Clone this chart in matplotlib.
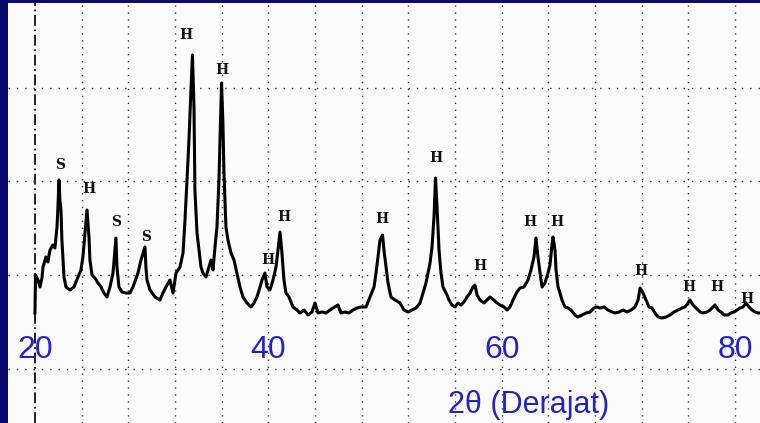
import matplotlib
matplotlib.use("Agg")
import matplotlib.pyplot as plt

# XRD pattern (2-theta in degrees, intensity in arbitrary units)
two_theta = [20.00, 20.05, 20.26, 20.43, 20.60, 20.69, 20.94, 21.11, 21.29, 21.54,
             21.71, 21.89, 21.97, 22.06, 22.14, 22.23, 22.31, 22.49, 22.66, 23.00,
             23.34, 23.69, 23.94, 24.11, 24.29, 24.46, 24.63, 24.71, 24.89, 25.14,
             25.40, 25.66, 25.91, 26.17, 26.43, 26.69, 26.94, 27.03, 27.20, 27.46,
             27.80, 28.14, 28.40, 28.83, 29.09, 29.43, 29.51, 29.60, 29.86, 30.29,
             30.71, 30.97, 31.23, 31.57, 31.83, 32.09, 32.43, 32.69, 32.86, 33.03,
             33.20, 33.37, 33.50, 33.63, 33.71, 33.89, 34.06, 34.23, 34.40, 34.66,
             34.91, 35.09, 35.26, 35.43, 35.60, 35.77, 35.86, 35.99, 36.11, 36.20,
             36.37, 36.54, 36.80, 37.06, 37.31, 37.57, 37.83, 38.17, 38.51, 38.77,
             39.03, 39.29, 39.46, 39.71, 39.89, 40.14, 40.40, 40.66, 40.83, 41.00,
             41.17, 41.34, 41.51, 41.77, 42.11, 42.46, 42.71, 43.06, 43.40, 43.74,
             44.00, 44.26, 44.60, 44.94, 45.29, 45.54, 45.97, 46.23, 46.57, 46.91,
             47.26, 47.60, 47.94, 48.37, 48.71, 49.06, 49.23, 49.40, 49.57, 49.79,
             49.91, 50.09, 50.26, 50.51, 50.86, 51.29, 51.63, 51.97, 52.31, 52.66,
             53.00, 53.26, 53.51, 53.69, 53.86, 54.03, 54.20, 54.33, 54.46, 54.63,
             54.80, 54.97, 55.23, 55.49, 55.74, 56.00, 56.26, 56.51, 56.77, 57.03,
             57.29, 57.54, 57.71, 57.89, 58.14, 58.49, 58.74, 59.00, 59.34, 59.60,
             59.86, 60.20, 60.46, 60.71, 60.97, 61.31, 61.57, 61.91, 62.26, 62.51,
             62.77, 62.94, 63.11, 63.29, 63.46, 63.71, 63.97, 64.14, 64.31, 64.40,
             64.57, 64.66, 64.83, 65.00, 65.17, 65.43, 65.69, 65.94, 66.29, 66.54,
             66.89, 67.23, 67.57, 67.91, 68.17, 68.43, 68.77, 69.11, 69.46, 69.71,
             70.06, 70.40, 70.74, 71.09, 71.43, 71.69, 71.86, 72.11, 72.37, 72.63,
             72.89, 73.14, 73.40, 73.74, 74.09, 74.43, 74.77, 75.11, 75.46, 75.71,
             75.97, 76.14, 76.40, 76.66, 77.00, 77.26, 77.60, 77.86, 78.11, 78.29,
             78.54, 78.80, 79.06, 79.40, 79.66, 79.91, 80.17, 80.43, 80.69, 80.94,
             81.20, 81.46, 81.71, 81.97, 82.14]
intensity = [110, 148, 143, 136, 145, 156, 166, 161, 173, 178,
             175, 196, 216, 243, 223, 213, 183, 146, 136, 133,
             136, 146, 153, 166, 190, 213, 186, 163, 148, 145,
             140, 136, 130, 126, 136, 150, 185, 156, 136, 131,
             130, 130, 136, 150, 163, 176, 156, 143, 133, 126,
             123, 130, 136, 143, 130, 150, 156, 170, 203, 243,
             283, 333, 368, 316, 233, 190, 173, 156, 150, 146,
             156, 163, 153, 176, 196, 243, 283, 340, 300, 250,
             196, 183, 170, 163, 150, 136, 126, 120, 116, 120,
             126, 136, 143, 150, 136, 133, 143, 156, 173, 191,
             170, 143, 130, 126, 116, 113, 110, 113, 108, 111,
             120, 110, 111, 110, 113, 115, 118, 110, 111, 110,
             113, 115, 116, 116, 126, 136, 150, 166, 183, 188,
             173, 156, 140, 126, 123, 120, 113, 111, 113, 115,
             120, 130, 140, 150, 160, 176, 206, 245, 216, 173,
             150, 136, 130, 123, 118, 116, 120, 118, 121, 126,
             130, 136, 138, 128, 123, 120, 123, 126, 123, 120,
             118, 116, 113, 116, 123, 131, 135, 136, 143, 153,
             166, 185, 166, 150, 136, 140, 150, 158, 178, 186,
             173, 153, 136, 130, 123, 116, 115, 113, 108, 106,
             108, 110, 111, 115, 116, 115, 116, 113, 111, 110,
             111, 113, 111, 113, 116, 123, 135, 130, 123, 116,
             115, 110, 106, 105, 106, 108, 111, 113, 115, 116,
             120, 123, 118, 115, 111, 110, 111, 113, 116, 118,
             113, 111, 108, 108, 110, 111, 113, 115, 116, 120,
             116, 113, 111, 110, 110]

# phase labels (S / H) and where they sit
peak_labels = ["S", "H", "S", "S", "H", "H", "H", "H", "H", "H",
               "H", "H", "H", "H", "H", "H", "H"]
label_theta = [22.14, 24.63, 26.94, 29.51, 32.94, 36.03, 39.97, 41.34, 49.74, 54.37,
               58.14, 62.43, 64.74, 71.94, 76.06, 78.46, 81.03]
label_height = [258, 234, 201, 186, 388, 353, 163, 206, 204, 265,
                157, 201, 201, 152, 136, 136, 124]

xtick_vals = [20, 40, 60, 80]
grid_x = list(range(20, 84, 4))
grid_y = [54.5, 148, 241.5, 335]

navy = "#0a0a6e"
blue = "#2323c8"

fig = plt.figure(figsize=(7.6, 4.23), dpi=100, facecolor=navy)
ax = fig.add_axes([8 / 760, 0, 752 / 760, 420 / 423])
ax.set_facecolor("#fbfbfb")

for gx in grid_x:
    if gx == 20:
        ax.axvline(gx, color="#111111", lw=1.3, ls=(0, (6, 2, 1, 2)), zorder=1)
    else:
        ax.axvline(gx, color="#333333", lw=1.0, ls=(0, (1, 4)), zorder=1)
for gy in grid_y:
    ax.axhline(gy, color="#333333", lw=1.0, ls=(0, (1, 5)), zorder=1)

ax.plot(two_theta, intensity, color="black", lw=2.2, zorder=3)

for lab, t, h in zip(peak_labels, label_theta, label_height):
    ax.text(t, h, lab, ha="center", va="center", fontsize=10, fontweight="bold",
            family="DejaVu Serif", color="#111111", zorder=4)

for v in xtick_vals:
    ax.text(v, 73, str(v), ha="center", va="center", fontsize=23,
            family="Liberation Sans", color=blue, zorder=4)
ax.text(62.3, 18, "2θ (Derajat)", ha="center", va="center", fontsize=22,
        family="Liberation Sans", color=blue, zorder=4)

ax.set_xlim(17.69, 82.14)
ax.set_ylim(0, 420)
ax.set_xticks([])
ax.set_yticks([])
for s in ax.spines.values():
    s.set_visible(False)

fig.savefig("out.png", dpi=100, facecolor=navy)
